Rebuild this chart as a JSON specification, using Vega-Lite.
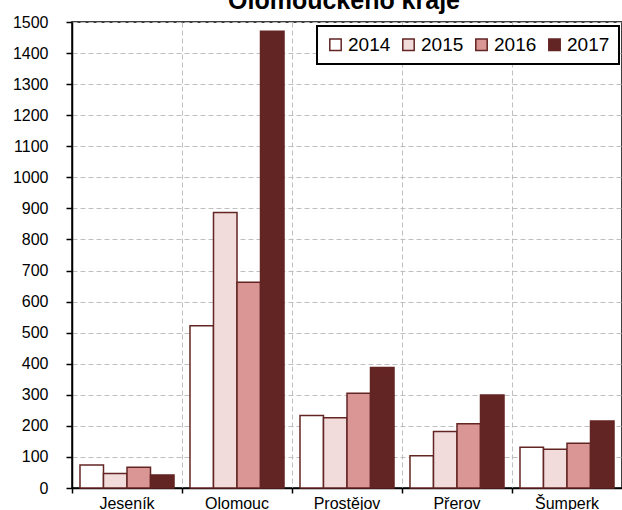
{
  "$schema": "https://vega.github.io/schema/vega-lite/v6.json",
  "width": 550,
  "height": 466,
  "autosize": {"type": "none"},
  "padding": {"left": 72, "top": 22, "right": 0, "bottom": 22},
  "background": "white",
  "title": {
    "text": "Olomouckého kraje",
    "font": "Liberation Sans",
    "fontSize": 25,
    "fontWeight": "bold",
    "color": "black",
    "anchor": "middle",
    "frame": "group",
    "dx": -3,
    "dy": 28,
    "baseline": "alphabetic",
    "offset": 8
  },
  "data": {
    "values": [
      {"okres": "Jeseník", "rok": "2014", "pocet": 74},
      {"okres": "Jeseník", "rok": "2015", "pocet": 47},
      {"okres": "Jeseník", "rok": "2016", "pocet": 67},
      {"okres": "Jeseník", "rok": "2017", "pocet": 42},
      {"okres": "Olomouc", "rok": "2014", "pocet": 522},
      {"okres": "Olomouc", "rok": "2015", "pocet": 887},
      {"okres": "Olomouc", "rok": "2016", "pocet": 662},
      {"okres": "Olomouc", "rok": "2017", "pocet": 1470},
      {"okres": "Prostějov", "rok": "2014", "pocet": 233},
      {"okres": "Prostějov", "rok": "2015", "pocet": 226},
      {"okres": "Prostějov", "rok": "2016", "pocet": 305},
      {"okres": "Prostějov", "rok": "2017", "pocet": 388},
      {"okres": "Přerov", "rok": "2014", "pocet": 104},
      {"okres": "Přerov", "rok": "2015", "pocet": 182},
      {"okres": "Přerov", "rok": "2016", "pocet": 207},
      {"okres": "Přerov", "rok": "2017", "pocet": 299},
      {"okres": "Šumperk", "rok": "2014", "pocet": 131},
      {"okres": "Šumperk", "rok": "2015", "pocet": 125},
      {"okres": "Šumperk", "rok": "2016", "pocet": 144},
      {"okres": "Šumperk", "rok": "2017", "pocet": 216}
    ]
  },
  "mark": {"type": "bar", "stroke": "#632523", "strokeWidth": 1.5},
  "encoding": {
    "x": {
      "field": "okres",
      "type": "nominal",
      "sort": null,
      "scale": {"paddingInner": 0, "paddingOuter": 0},
      "axis": {
        "title": null,
        "labelAngle": 0,
        "bandPosition": 0,
        "domainColor": "black",
        "domainWidth": 1.5,
        "tickColor": "black",
        "tickWidth": 1.5,
        "tickSize": 5,
        "labelFont": "Liberation Sans",
        "labelFontSize": 16,
        "labelColor": "black",
        "labelPadding": 2,
        "grid": true,
        "gridColor": "#BFBFBF",
        "gridDash": [5, 3],
        "gridWidth": 1
      }
    },
    "xOffset": {
      "field": "rok",
      "type": "nominal",
      "scale": {"paddingInner": 0, "paddingOuter": 0.34}
    },
    "y": {
      "field": "pocet",
      "type": "quantitative",
      "scale": {"domain": [0, 1500], "nice": false},
      "axis": {
        "title": null,
        "format": "d",
        "values": [0,100,200,300,400,500,600,700,800,900,1000,1100,1200,1300,1400,1500],
        "domainColor": "black",
        "domainWidth": 1.5,
        "tickColor": "black",
        "tickWidth": 1.5,
        "tickSize": 6,
        "labelFont": "Liberation Sans",
        "labelFontSize": 16,
        "labelColor": "black",
        "labelPadding": 18,
        "grid": true,
        "gridColor": "#BFBFBF",
        "gridDash": [5, 3],
        "gridWidth": 1
      }
    },
    "fill": {
      "field": "rok",
      "type": "nominal",
      "scale": {
        "domain": ["2014", "2015", "2016", "2017"],
        "range": ["#FFFFFF", "#F2DCDB", "#D99694", "#632523"]
      },
      "legend": {
        "title": null,
        "orient": "none",
        "legendX": 245,
        "legendY": 4,
        "direction": "horizontal",
        "symbolType": "square",
        "symbolSize": 130,
        "symbolStrokeColor": "#632523",
        "symbolStrokeWidth": 1.5,
        "symbolOpacity": 1,
        "labelFont": "Liberation Sans",
        "labelFontSize": 19,
        "labelColor": "black",
        "labelOffset": 3,
        "columnPadding": 8,
        "padding": 9,
        "strokeColor": "black",
        "fillColor": "white",
        "encode": {"legend": {"update": {"strokeWidth": {"value": 2}}}}
      }
    }
  },
  "config": {
    "view": {"stroke": "black", "strokeWidth": 1.5}
  }
}
